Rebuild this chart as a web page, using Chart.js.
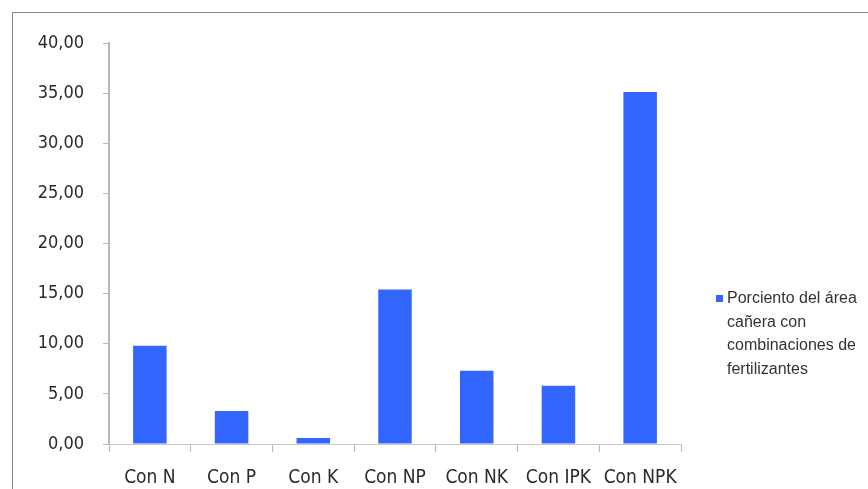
<!DOCTYPE html>
<html>
<head>
<meta charset="utf-8">
<script src="https://cdn.jsdelivr.net/npm/chart.js@4/dist/chart.umd.min.js"></script>
<style>
  html, body { margin: 0; padding: 0; background: #fff; }
  #wrap { width: 868px; height: 489px; position: relative; }
</style>
</head>
<body>
<div id="wrap"><canvas id="c" width="868" height="489"></canvas></div>
<script>
const categories = ["Con N", "Con P", "Con K", "Con NP", "Con NK", "Con IPK", "Con NPK"];
const values = [9.8, 3.3, 0.6, 15.4, 7.3, 5.8, 35.1];
const seriesLabel = ["Porciento del área", "cañera con", "combinaciones de", "fertilizantes"];
const yTicks = [0, 5, 10, 15, 20, 25, 30, 35, 40];

const barColor = "#3366FF";

const frameAndLegend = {
  id: "frameAndLegend",
  beforeDraw(chart) {
    const ctx = chart.ctx;
    ctx.save();
    ctx.fillStyle = "#fff";
    ctx.fillRect(0, 0, chart.width, chart.height);
    ctx.strokeStyle = "#858585";
    ctx.lineWidth = 1;
    ctx.beginPath();
    ctx.moveTo(12.5, chart.height);
    ctx.lineTo(12.5, 12.5);
    ctx.lineTo(chart.width, 12.5);
    ctx.stroke();
    ctx.restore();
  },
  afterDraw(chart) {
    const ctx = chart.ctx;
    ctx.save();
    ctx.fillStyle = barColor;
    ctx.fillRect(716, 295, 7, 7);
    ctx.fillStyle = "#333";
    ctx.font = "16px 'Liberation Sans', Arial, sans-serif";
    ctx.textBaseline = "middle";
    ctx.textAlign = "left";
    seriesLabel.forEach((t, i) => ctx.fillText(t, 727, 299 + i * 23.5));
    ctx.restore();
  }
};

new Chart(document.getElementById("c"), {
  type: "bar",
  data: {
    labels: categories,
    datasets: [{
      label: seriesLabel.join(" "),
      data: values,
      backgroundColor: barColor,
      borderWidth: 0,
      categoryPercentage: 1,
      barPercentage: 0.41
    }]
  },
  options: {
    responsive: false,
    animation: false,
    events: [],
    layout: { padding: { left: 0, right: 187, top: 43, bottom: 0 } },
    plugins: { legend: { display: false }, tooltip: { enabled: false } },
    scales: {
      x: {
        offset: true,
        grid: { offset: true, drawOnChartArea: false, color: "#b8b8b8", tickLength: 8, tickColor: "#b8b8b8" },
        border: { color: "#c8c8c8", width: 1 },
        ticks: { color: "#2a2a2a", font: { family: "'DejaVu Sans Condensed', 'DejaVu Sans', sans-serif", size: 19 }, padding: 15, maxRotation: 0 },
        afterFit(s) { s.height = 45; }
      },
      y: {
        min: 0, max: 40,
        afterBuildTicks(s) { s.ticks = yTicks.map(v => ({ value: v })); },
        grid: { drawOnChartArea: false, color: "#b8b8b8", tickLength: 6, tickColor: "#b8b8b8" },
        border: { color: "#b8b8b8", width: 2 },
        ticks: {
          color: "#2a2a2a",
          font: { family: "'DejaVu Sans Condensed', 'DejaVu Sans', sans-serif", size: 18 },
          padding: 19,
          callback: v => v.toFixed(2).replace(".", ",")
        },
        afterFit(s) { s.width = 109; }
      }
    }
  },
  plugins: [frameAndLegend]
});
</script>
</body>
</html>
